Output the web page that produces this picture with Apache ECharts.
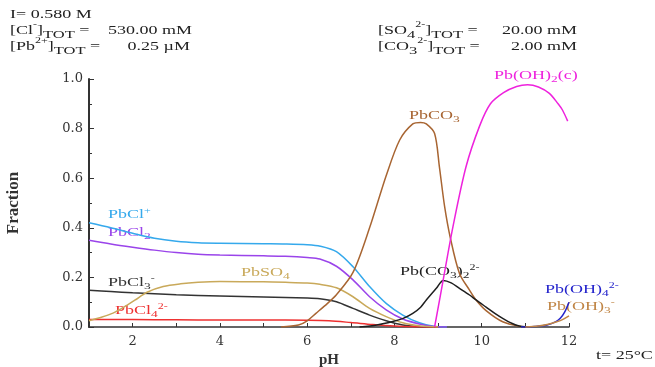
<!DOCTYPE html>
<html><head><meta charset="utf-8">
<script src="https://cdn.jsdelivr.net/npm/echarts@6/dist/echarts.min.js"></script>
<style>html,body{margin:0;padding:0;background:#fff}#c{width:655px;height:367px}</style>
</head><body><div id="c"></div>
<script>
// ---- data: [pH, fraction] ----
var PbCl_p = [[1,0.42],[1.5,0.40],[2,0.378],[2.5,0.358],[3,0.346],[3.5,0.34],[4,0.338],[5,0.336],[5.5,0.335],[6,0.332],[6.3,0.326],[6.67,0.304],[7.05,0.243],[7.43,0.163],[7.81,0.095],[8.19,0.048],[8.57,0.017],[8.9,0.003],[9.2,0]];
var PbCl2 = [[1,0.35],[1.5,0.335],[2,0.322],[2.5,0.31],[3,0.3],[3.5,0.293],[4,0.29],[5,0.287],[5.5,0.285],[6,0.28],[6.29,0.274],[6.67,0.245],[7.05,0.19],[7.43,0.122],[7.81,0.069],[8.19,0.032],[8.57,0.012],[8.9,0.002],[9.2,0]];
var PbCl3_m = [[1,0.148],[1.5,0.143],[2,0.138],[3,0.13],[4,0.125],[5,0.121],[6,0.117],[6.29,0.114],[6.67,0.102],[7.05,0.075],[7.43,0.048],[7.81,0.025],[8.19,0.008],[8.6,0.001],[9,0]];
var PbCl4_2m = [[1,0.03],[2,0.03],[3,0.029],[4,0.028],[5,0.028],[6,0.027],[6.5,0.025],[7,0.018],[7.5,0.01],[8,0.004],[8.5,0.001],[9,0]];
var PbSO4 = [[1,0.025],[1.3,0.04],[1.55,0.056],[1.8,0.08],[2.05,0.108],[2.33,0.14],[2.7,0.163],[3.1,0.174],[3.5,0.18],[4,0.183],[5,0.182],[5.5,0.18],[6,0.177],[6.29,0.172],[6.67,0.158],[7.05,0.122],[7.43,0.075],[7.81,0.042],[8.19,0.017],[8.6,0.004],[9,0]];
var PbCO3 = [[5.4,0],[5.8,0.008],[6.0,0.025],[6.2,0.055],[6.4,0.085],[6.67,0.13],[7.05,0.22],[7.43,0.40],[7.81,0.61],[8.12,0.754],[8.42,0.819],[8.6,0.825],[8.73,0.819],[8.92,0.78],[9.03,0.646],[9.15,0.485],[9.28,0.36],[9.49,0.216],[9.72,0.149],[9.87,0.109],[10.1,0.066],[10.48,0.021],[10.86,0.003],[11.1,0]];
var PbCO3_2_2m = [[7.2,0],[7.6,0.008],[7.96,0.022],[8.2,0.035],[8.42,0.055],[8.6,0.08],[8.73,0.109],[8.96,0.156],[9.12,0.188],[9.3,0.178],[9.49,0.156],[9.72,0.129],[9.87,0.109],[10.1,0.08],[10.3,0.055],[10.48,0.035],[10.7,0.014],[10.86,0.004],[11,0.001]];
var PbOH2_c = [[8.92,0],[9.11,0.183],[9.34,0.404],[9.64,0.646],[9.95,0.81],[10.2,0.9],[10.5,0.945],[10.8,0.97],[11.05,0.977],[11.3,0.968],[11.55,0.942],[11.75,0.9],[11.85,0.875],[11.97,0.83]];
var PbOH4_2m = [[10.9,0],[11.2,0.002],[11.5,0.008],[11.7,0.022],[11.8,0.035],[11.9,0.06],[12,0.1]];
var PbOH3_m = [[11.0,0],[11.3,0.004],[11.5,0.01],[11.7,0.02],[11.85,0.03],[12,0.045]];
var xTicks = [2,4,6,8,10,12];
var yTicks = [0,0.2,0.4,0.6,0.8,1.0];

var SERIF = '"Liberation Serif","Times New Roman",serif';
var TICKF = '"DejaVu Serif",serif';
var SX = 1.5; // reference text is drawn wide
var chart = echarts.init(document.getElementById('c'));

function rich(color, size, lh, subSize){
  return {
    b:{fontFamily:SERIF,fontSize:size,color:color,lineHeight:14},
    sub:{fontFamily:SERIF,fontSize:subSize,color:color,lineHeight:lh,verticalAlign:'bottom'},
    sup:{fontFamily:SERIF,fontSize:size-4,color:color,lineHeight:lh,verticalAlign:'top'}
  };
}
function hdr(x,y,str,align){
  return {type:'text',x:x,y:y,scaleX:SX,silent:true,style:{text:str,rich:rich('#222',12,20,11),align:align||'left',verticalAlign:'middle',fill:'#222',font:'12px '+SERIF}};
}
function lab(x,y,str,color){
  return {type:'text',x:x,y:y,scaleX:SX,silent:true,style:{text:str,rich:rich(color,12,17,9),align:'left',verticalAlign:'middle',fill:color,font:'12px '+SERIF}};
}
function line(name,data,color){
  return {name:name,type:'line',data:data,showSymbol:false,smooth:0.3,lineStyle:{color:color,width:1.5},itemStyle:{color:color},z:2};
}
var C = {cl1:'#35a9ec',cl2:'#9a44ea',cl3:'#333333',cl4:'#ee3030',so4:'#c9a95a',co3:'#a86532',co32:'#1e1e1e',oh2:'#ee22dd',oh4:'#2424cc',oh3:'#c08545'};

chart.setOption({
  animation:false,
  grid:{left:89,right:86,top:79,bottom:40,containLabel:false,outerBoundsMode:'none'},
  xAxis:{type:'value',min:1,max:12,interval:1,
    name:'pH',nameLocation:'middle',nameGap:24,nameTextStyle:{fontFamily:SERIF,fontSize:15,fontWeight:'bold',color:'#333'},
    axisLine:{lineStyle:{color:'#333',width:1.5}},
    axisTick:{inside:true,length:4,lineStyle:{color:'#333'}},
    axisLabel:{margin:8,fontFamily:TICKF,fontSize:13,color:'#333',formatter:function(v){return xTicks.indexOf(v)>=0?String(v):'';}},
    splitLine:{show:false}},
  yAxis:{type:'value',min:0,max:1,interval:0.2,
    name:'Fraction',nameLocation:'middle',nameGap:67,nameTextStyle:{fontFamily:SERIF,fontSize:17,fontWeight:'bold',color:'#333'},
    axisLine:{show:true,lineStyle:{color:'#333',width:2}},
    axisTick:{show:true,inside:true,length:5,lineStyle:{color:'#333'}},
    minorTick:{show:true,splitNumber:2,length:3,lineStyle:{color:'#333'}},
    axisLabel:{margin:6,fontFamily:TICKF,fontSize:13,color:'#333',formatter:function(v){return yTicks.some(function(t){return Math.abs(t-v)<1e-6;})?v.toFixed(1):'';}},
    splitLine:{show:false}},
  series:[
    line('PbCl+',PbCl_p,C.cl1),
    line('PbCl2',PbCl2,C.cl2),
    line('PbCl3-',PbCl3_m,C.cl3),
    line('PbCl4 2-',PbCl4_2m,C.cl4),
    line('PbSO4',PbSO4,C.so4),
    line('PbCO3',PbCO3,C.co3),
    line('Pb(CO3)2 2-',PbCO3_2_2m,C.co32),
    line('Pb(OH)2(c)',PbOH2_c,C.oh2),
    line('Pb(OH)4 2-',PbOH4_2m,C.oh4),
    line('Pb(OH)3-',PbOH3_m,C.oh3)
  ],
  graphic:[
    hdr(10,15,'{b|I= 0.580 M}'),
    hdr(10,31,'{b|[Cl}{sup|-}{b|]}{sub|TOT}{b| =}'),
    hdr(192,31,'{b|530.00 mM}','right'),
    hdr(10,47,'{b|[Pb}{sup|2+}{b|]}{sub|TOT}{b| =}'),
    hdr(190,47,'{b|0.25 µM}','right'),
    hdr(378,31,'{b|[SO}{sub|4}{sup|2-}{b|]}{sub|TOT}{b| =}'),
    hdr(577,31,'{b|20.00 mM}','right'),
    hdr(378,47,'{b|[CO}{sub|3}{sup|2-}{b|]}{sub|TOT}{b| =}'),
    hdr(577,47,'{b|2.00 mM}','right'),
    hdr(596,356,'{b|t= 25°C}'),
    lab(108,215,'{b|PbCl}{sup|+}',C.cl1),
    lab(108,233,'{b|PbCl}{sub|2}',C.cl2),
    lab(108,283,'{b|PbCl}{sub|3}{sup|-}',C.cl3),
    lab(115,311,'{b|PbCl}{sub|4}{sup|2-}',C.cl4),
    lab(241,273,'{b|PbSO}{sub|4}',C.so4),
    lab(409,116,'{b|PbCO}{sub|3}',C.co3),
    lab(494,76,'{b|Pb(OH)}{sub|2}{b|(c)}',C.oh2),
    lab(400,272,'{b|Pb(CO}{sub|3}{b|)}{sub|2}{sup|2-}',C.co32),
    lab(545,290,'{b|Pb(OH)}{sub|4}{sup|2-}',C.oh4),
    lab(547,307,'{b|Pb(OH)}{sub|3}{sup|-}',C.oh3)
  ]
});
</script></body></html>
